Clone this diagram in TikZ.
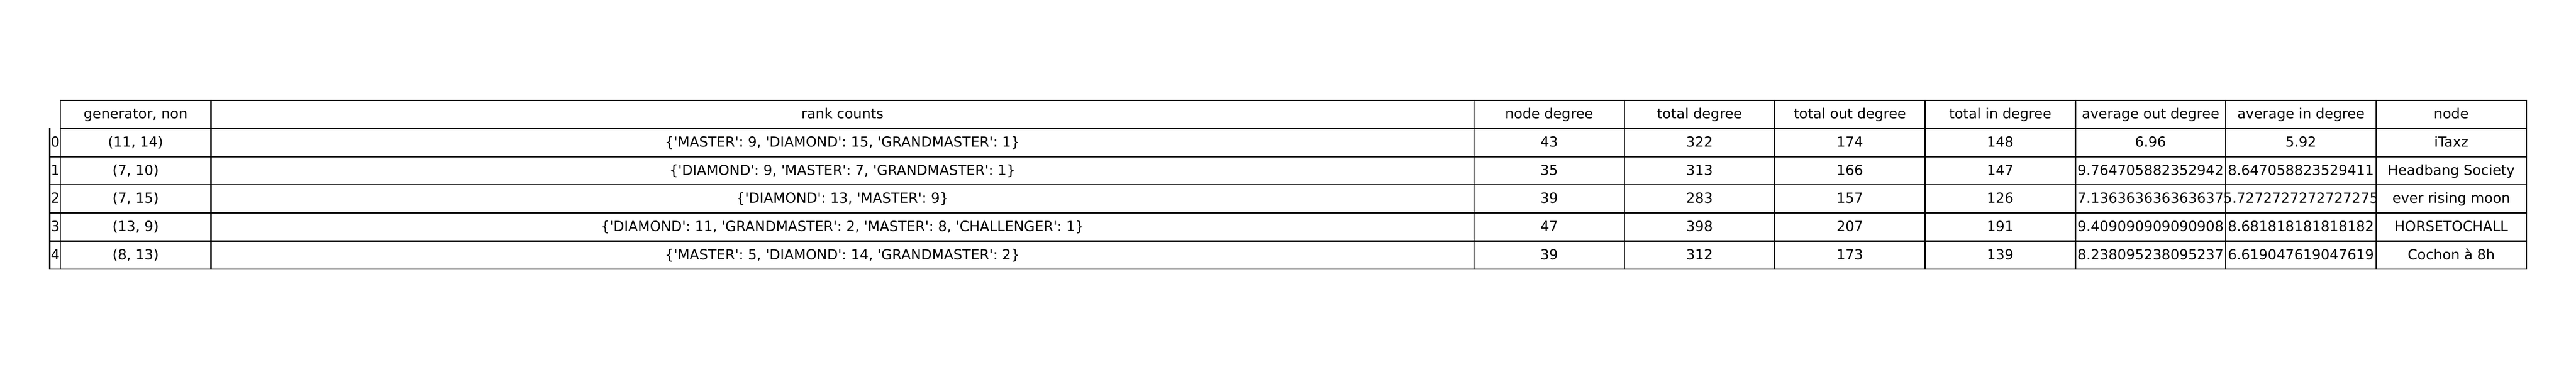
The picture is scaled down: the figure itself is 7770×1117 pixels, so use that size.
\documentclass[tikz,border=0pt]{standalone}
\usepackage{fontspec}
\setmainfont{DejaVu Sans}[Ligatures=TeXOff]
\begin{document}
\begin{tikzpicture}[x=1pt,y=-1pt,
  cell/.style={anchor=base,inner sep=0pt,font=\fontsize{42}{50}\selectfont},
  idxcell/.style={anchor=base west,inner sep=0pt,font=\fontsize{42}{50}\selectfont},
  gridline/.style={line width=4pt,line cap=rect,black}]
\useasboundingbox[fill=white] (0,0) rectangle (7770,1117);
% header
\node[cell] (h1) at (409,358.5) {generator, non};
\node[cell] (h2) at (2541,358.5) {rank counts};
\node[cell] (h3) at (4672.75,358.5) {node degree};
\node[cell] (h4) at (5126.25,358.5) {total degree};
\node[cell] (h5) at (5579.75,358.5) {total out degree};
\node[cell] (h6) at (6033.25,358.5) {total in degree};
\node[cell] (h7) at (6486.75,358.5) {average out degree};
\node[cell] (h8) at (6940.25,358.5) {average in degree};
\node[cell] (h9) at (7393.75,358.5) {node};
% row 0
\node[idxcell] (i0) at (153.2,443.5) {0};
\node[cell] (r0c1) at (409,443.5) {(11, 14)};
\node[cell] (r0c2) at (2541,443.5) {\{'MASTER': 9, 'DIAMOND': 15, 'GRANDMASTER': 1\}};
\node[cell] (r0c3) at (4672.75,443.5) {43};
\node[cell] (r0c4) at (5126.25,443.5) {322};
\node[cell] (r0c5) at (5579.75,443.5) {174};
\node[cell] (r0c6) at (6033.25,443.5) {148};
\node[cell] (r0c7) at (6486.75,443.5) {6.96};
\node[cell] (r0c8) at (6940.25,443.5) {5.92};
\node[cell] (r0c9) at (7393.75,443.5) {iTaxz};
% row 1
\node[idxcell] (i1) at (153.2,528.5) {1};
\node[cell] (r1c1) at (409,528.5) {(7, 10)};
\node[cell] (r1c2) at (2541,528.5) {\{'DIAMOND': 9, 'MASTER': 7, 'GRANDMASTER': 1\}};
\node[cell] (r1c3) at (4672.75,528.5) {35};
\node[cell] (r1c4) at (5126.25,528.5) {313};
\node[cell] (r1c5) at (5579.75,528.5) {166};
\node[cell] (r1c6) at (6033.25,528.5) {147};
\node[cell] (r1c7) at (6486.75,528.5) {9.764705882352942};
\node[cell] (r1c8) at (6940.25,528.5) {8.647058823529411};
\node[cell] (r1c9) at (7393.75,528.5) {Headbang Society};
% row 2
\node[idxcell] (i2) at (153.2,613.5) {2};
\node[cell] (r2c1) at (409,613.5) {(7, 15)};
\node[cell] (r2c2) at (2541,613.5) {\{'DIAMOND': 13, 'MASTER': 9\}};
\node[cell] (r2c3) at (4672.75,613.5) {39};
\node[cell] (r2c4) at (5126.25,613.5) {283};
\node[cell] (r2c5) at (5579.75,613.5) {157};
\node[cell] (r2c6) at (6033.25,613.5) {126};
\node[cell] (r2c7) at (6486.75,613.5) {7.136363636363637};
\node[cell] (r2c8) at (6940.25,613.5) {5.7272727272727275};
\node[cell] (r2c9) at (7393.75,613.5) {ever rising moon};
% row 3
\node[idxcell] (i3) at (153.2,698.5) {3};
\node[cell] (r3c1) at (409,698.5) {(13, 9)};
\node[cell] (r3c2) at (2541,698.5) {\{'DIAMOND': 11, 'GRANDMASTER': 2, 'MASTER': 8, 'CHALLENGER': 1\}};
\node[cell] (r3c3) at (4672.75,698.5) {47};
\node[cell] (r3c4) at (5126.25,698.5) {398};
\node[cell] (r3c5) at (5579.75,698.5) {207};
\node[cell] (r3c6) at (6033.25,698.5) {191};
\node[cell] (r3c7) at (6486.75,698.5) {9.409090909090908};
\node[cell] (r3c8) at (6940.25,698.5) {8.681818181818182};
\node[cell] (r3c9) at (7393.75,698.5) {HORSETOCHALL};
% row 4
\node[idxcell] (i4) at (153.2,783.5) {4};
\node[cell] (r4c1) at (409,783.5) {(8, 13)};
\node[cell] (r4c2) at (2541,783.5) {\{'MASTER': 5, 'DIAMOND': 14, 'GRANDMASTER': 2\}};
\node[cell] (r4c3) at (4672.75,783.5) {39};
\node[cell] (r4c4) at (5126.25,783.5) {312};
\node[cell] (r4c5) at (5579.75,783.5) {173};
\node[cell] (r4c6) at (6033.25,783.5) {139};
\node[cell] (r4c7) at (6486.75,783.5) {8.238095238095237};
\node[cell] (r4c8) at (6940.25,783.5) {6.619047619047619};
\node[cell] (r4c9) at (7393.75,783.5) {Cochon à 8h};
% grid
\draw[gridline] (182,303) -- (7620.5,303);
\draw[gridline] (182,388) -- (7620.5,388);
\foreach \yy in {473,558,643,728,813}
  \draw[gridline] (150,\yy) -- (7620.5,\yy);
\foreach \xx in {182,636,4446,4899.5,5353,5806.5,6260,6713.5,7167,7620.5}
  \draw[gridline] (\xx,303) -- (\xx,813);
\draw[gridline] (150,388) -- (150,813);
\end{tikzpicture}
\end{document}
